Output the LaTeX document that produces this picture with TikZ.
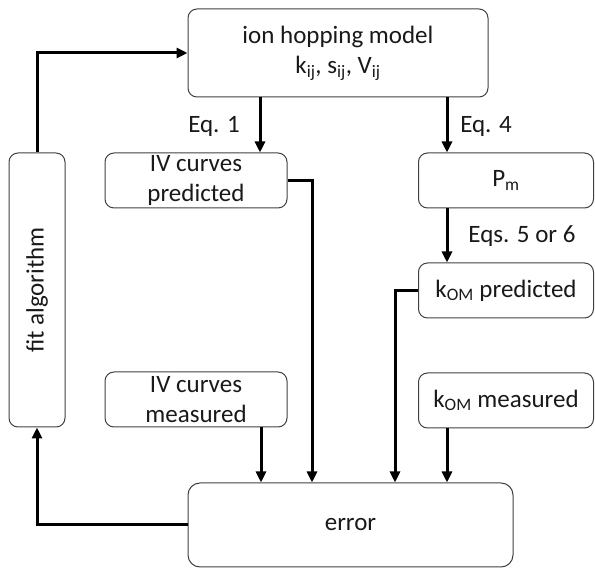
\documentclass[tikz,border=0pt]{standalone}
\usepackage{fontspec}
\setmainfont{Carlito}
\usetikzlibrary{arrows.meta}
\begin{document}
\begin{tikzpicture}[x=1pt,y=1pt,
  box/.style={draw=black!75, line width=1pt, rounded corners=9pt, align=center,
    inner sep=0pt, font=\fontsize{25}{30}\selectfont, text=black!90},
  arr/.style={line width=3pt, -{Triangle[length=11pt,width=10pt]}},
  lbl/.style={font=\fontsize{25}{30}\selectfont, text=black!90, inner sep=0pt}]
\useasboundingbox (0,0) rectangle (595,568);
% nodes
\node[box, minimum width=300pt, minimum height=88pt] (model) at (338,515)
  {ion hopping model\\k\textsubscript{ij}, s\textsubscript{ij}, V\textsubscript{ij}};
\node[box, minimum width=56pt, minimum height=274pt] (fit) at (37,278)
  {\rotatebox{90}{fit algorithm}};
\node[box, minimum width=182pt, minimum height=55pt] (IVp) at (196,387.5)
  {IV curves\\predicted};
\node[box, minimum width=175pt, minimum height=55pt] (Pm) at (506,387.5)
  {P\textsubscript{m}};
\node[box, minimum width=175pt, minimum height=55pt] (kp) at (506,277.5)
  {k\textsubscript{OM} predicted};
\node[box, minimum width=182pt, minimum height=55pt] (IVm) at (196,168.5)
  {IV curves\\measured};
\node[box, minimum width=175pt, minimum height=55pt] (km) at (506,167.5)
  {k\textsubscript{OM} measured};
\node[box, rounded corners=12pt, minimum width=325pt, minimum height=84pt] (err) at (350.5,43)
  {error};
% labels
\node[lbl] (l1) at (214,442) {Eq. 1};
\node[lbl] (l4) at (486,442) {Eq. 4};
\node[lbl] (l56) at (522,332) {Eqs. 5 or 6};
% helper x positions
\coordinate (xa) at (260,0);
\coordinate (xb) at (447,0);
\coordinate (xc) at (312,0);
\coordinate (xd) at (395,0);
\coordinate (xe) at (261,0);
% connectors
\draw[arr] (xa |- model.south) -- (xa |- IVp.north);
\draw[arr] (xb |- model.south) -- (xb |- Pm.north);
\draw[arr] (xb |- Pm.south) -- (xb |- kp.north);
\draw[arr] (IVp.east) -| (xc |- err.north);
\draw[arr] (kp.west) -| (xd |- err.north);
\draw[arr] (xe |- IVm.south) -- (xe |- err.north);
\draw[arr] (xb |- km.south) -- (xb |- err.north);
\draw[arr] (err.west) -| (fit.south);
\draw[arr] (fit.north) |- (model.west);
\end{tikzpicture}
\end{document}
